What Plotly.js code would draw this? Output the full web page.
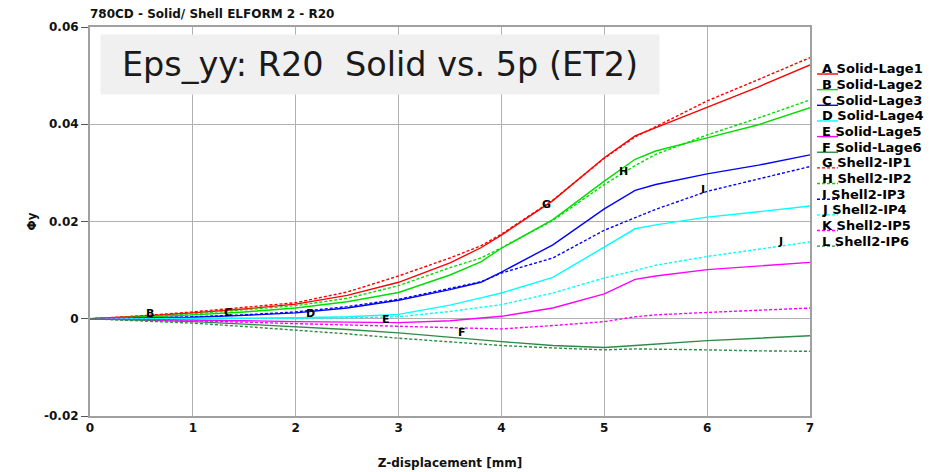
<!DOCTYPE html>
<html>
<head>
<meta charset="utf-8">
<script src="https://cdn.plot.ly/plotly-3.0.1.min.js"></script>
<style>html,body{margin:0;padding:0;background:#fff;}#chart{width:935px;height:472px;}</style>
</head>
<body>
<div id="chart"></div>
<script>
// ---- data ----
const xValues = [0, 0.5, 1, 1.5, 2, 2.5, 3, 3.5, 3.8, 4, 4.5, 5, 5.3, 5.5, 6, 6.5, 7];

const solidLage1 = [0, 0.0005, 0.0012, 0.002, 0.003, 0.0048, 0.0075, 0.0115, 0.0146, 0.0172, 0.0243, 0.0331, 0.0376, 0.0393, 0.0436, 0.0477, 0.0522];
const solidLage2 = [0, 0.0003, 0.0008, 0.0014, 0.0022, 0.0035, 0.0054, 0.009, 0.0117, 0.0145, 0.0204, 0.0283, 0.0328, 0.0345, 0.0372, 0.0399, 0.0434];
const solidLage3 = [0, 0.0001, 0.0003, 0.0007, 0.0012, 0.0022, 0.0038, 0.006, 0.0075, 0.0096, 0.0152, 0.0226, 0.0264, 0.0276, 0.0298, 0.0316, 0.0337];
const solidLage4 = [0, 0, 0.0001, 0.0001, 0.0002, 0.0004, 0.0009, 0.0028, 0.0043, 0.0053, 0.0085, 0.0147, 0.0185, 0.0193, 0.0209, 0.022, 0.0232];
const solidLage5 = [0, -0.0001, -0.0002, -0.0004, -0.0006, -0.0007, -0.0008, -0.0004, 0.0001, 0.0005, 0.0022, 0.0051, 0.0081, 0.0088, 0.0101, 0.0108, 0.0116];
const solidLage6 = [0, -0.0003, -0.0006, -0.0011, -0.0016, -0.0022, -0.0029, -0.0038, -0.0044, -0.0047, -0.0055, -0.0059, -0.0055, -0.0052, -0.0045, -0.004, -0.0035];
const shellIP1 = [0, 0.0006, 0.0014, 0.0023, 0.0033, 0.0055, 0.0088, 0.0125, 0.015, 0.0174, 0.0244, 0.033, 0.0374, 0.0395, 0.0448, 0.0492, 0.0537];
const shellIP2 = [0, 0.0004, 0.001, 0.0018, 0.0027, 0.0042, 0.0068, 0.0105, 0.0125, 0.0146, 0.0202, 0.0276, 0.0315, 0.0338, 0.0378, 0.0413, 0.045];
const shellIP3 = [0, 0.0001, 0.0004, 0.0008, 0.0014, 0.0025, 0.004, 0.0062, 0.0076, 0.0094, 0.0125, 0.0182, 0.0207, 0.0225, 0.0262, 0.0287, 0.0313];
const shellIP4 = [0, 0, 0, 0.0001, 0.0001, 0.0002, 0.0004, 0.0015, 0.0024, 0.0029, 0.0053, 0.0084, 0.0099, 0.011, 0.0128, 0.0143, 0.0158];
const shellIP5 = [0, -0.0002, -0.0004, -0.0007, -0.001, -0.0013, -0.0016, -0.0019, -0.0021, -0.0021, -0.0014, -0.0006, 0.0004, 0.0008, 0.0013, 0.0017, 0.0022];
const shellIP6 = [0, -0.0005, -0.0009, -0.0016, -0.0023, -0.0031, -0.004, -0.0048, -0.0052, -0.0055, -0.006, -0.0064, -0.0062, -0.0063, -0.0064, -0.0066, -0.0067];

const seriesLetters = ["A", "B", "C", "D", "E", "F", "G", "H", "I", "J", "K", "L"];
const seriesNames = ["Solid-Lage1", "Solid-Lage2", "Solid-Lage3", "Solid-Lage4", "Solid-Lage5", "Solid-Lage6",
                     "Shell2-IP1", "Shell2-IP2", "Shell2-IP3", "Shell2-IP4", "Shell2-IP5", "Shell2-IP6"];
const seriesValues = [solidLage1, solidLage2, solidLage3, solidLage4, solidLage5, solidLage6,
                      shellIP1, shellIP2, shellIP3, shellIP4, shellIP5, shellIP6];

// curve label positions (letters drawn on the curves)
const labelLetters = ["B", "C", "D", "E", "F", "G", "H", "I", "J"];
const labelX = [0.58, 1.34, 2.14, 2.88, 3.62, 4.44, 5.19, 5.96, 6.71];
const labelY = [0.001, 0.0012, 0.001, -0.0001, -0.0029, 0.0236, 0.0302, 0.0265, 0.0158];

const xTicks = [0, 1, 2, 3, 4, 5, 6, 7];
const yTicks = [-0.02, 0, 0.02, 0.04, 0.06];
const yTickText = ["-0.02", "0", "0.02", "0.04", "0.06"];

// ---- styling ----
const colors = ["#ff0000", "#00dd00", "#0000ff", "#00ffff", "#ff00ff", "#2e8b46"];
const FONT = "DejaVu Sans, sans-serif";

const traces = seriesValues.map((vals, i) => ({
  x: xValues, y: vals, type: "scatter", mode: "lines",
  name: seriesLetters[i] + " " + seriesNames[i],
  showlegend: false,
  line: {color: colors[i % 6], width: 1.4, dash: i < 6 ? "solid" : "3px,2px"}
}));

// plot area geometry in px for paper conversion
const L = 90, R = 810, T = 27, B = 416, W = 935, H = 472;
const px2x = p => (p - L) / (R - L);
const px2y = p => (B - p) / (B - T);

const annotations = [];
const shapes = [];

labelLetters.forEach((t, i) => {
  annotations.push({x: labelX[i], y: labelY[i], xref: "x", yref: "y", text: t, showarrow: false,
    font: {family: FONT, size: 11, color: "#000", weight: "bold"}});
});

// legend built with text + sample lines
seriesLetters.forEach((t, i) => {
  const cy = 69 + i * 15.65;
  annotations.push({x: px2x(820), y: px2y(cy), xref: "paper", yref: "paper", xanchor: "left", yanchor: "middle",
    text: t + " " + seriesNames[i], showarrow: false,
    font: {family: FONT, size: 13, color: "#000", weight: "bold"}});
  shapes.push({type: "line", xref: "paper", yref: "paper",
    x0: px2x(817), x1: px2x(838), y0: px2y(cy + 5), y1: px2y(cy + 5),
    line: {color: colors[i % 6], width: 1.4, dash: i < 6 ? "solid" : "3px,2px"}});
});

// big grey caption box
annotations.push({x: px2x(100), y: px2y(34), xref: "paper", yref: "paper", xanchor: "left", yanchor: "top",
  text: "Eps_yy: R20\u00a0\u00a0Solid vs. 5p (ET2)", showarrow: false,
  width: 558, height: 59, bgcolor: "#f0f0f0", borderpad: 0, align: "center",
  font: {family: FONT, size: 33.5, color: "#1a1a1a"}});

const layout = {
  width: W, height: H,
  margin: {l: L, r: W - R, t: T, b: H - B, pad: 0},
  paper_bgcolor: "#fff", plot_bgcolor: "#fff",
  showlegend: false,
  title: {text: "780CD - Solid/ Shell ELFORM 2 - R20", xref: "paper", x: 0, xanchor: "left",
          yref: "container", y: 1 - 14 / H, yanchor: "middle",
          font: {family: FONT, size: 12, color: "#111", weight: "bold"}},
  xaxis: {range: [0, 7], tickvals: xTicks, ticktext: xTicks.map(String),
          showgrid: true, gridcolor: "#b0b0b0", gridwidth: 1, zeroline: false,
          showline: true, linecolor: "#a0a0a0", linewidth: 2, mirror: true,
          ticks: "", tickfont: {family: FONT, size: 12, color: "#111", weight: "bold"},
          title: {text: "Z-displacement [mm]", standoff: 24, font: {family: FONT, size: 12, color: "#111", weight: "bold"}}},
  yaxis: {range: [-0.02, 0.06], tickvals: yTicks, ticktext: yTickText,
          showgrid: true, gridcolor: "#b0b0b0", gridwidth: 1, zeroline: false,
          showline: true, linecolor: "#a0a0a0", linewidth: 2, mirror: true,
          ticks: "outside", ticklen: 7, tickcolor: "#555", tickwidth: 1,
          tickfont: {family: FONT, size: 12, color: "#111", weight: "bold"},
          title: {text: "Φy", standoff: 5, font: {family: FONT, size: 12, color: "#111", weight: "bold"}}},
  annotations: annotations,
  shapes: shapes
};

Plotly.newPlot("chart", traces, layout, {displayModeBar: false, staticPlot: true});
</script>
</body>
</html>
